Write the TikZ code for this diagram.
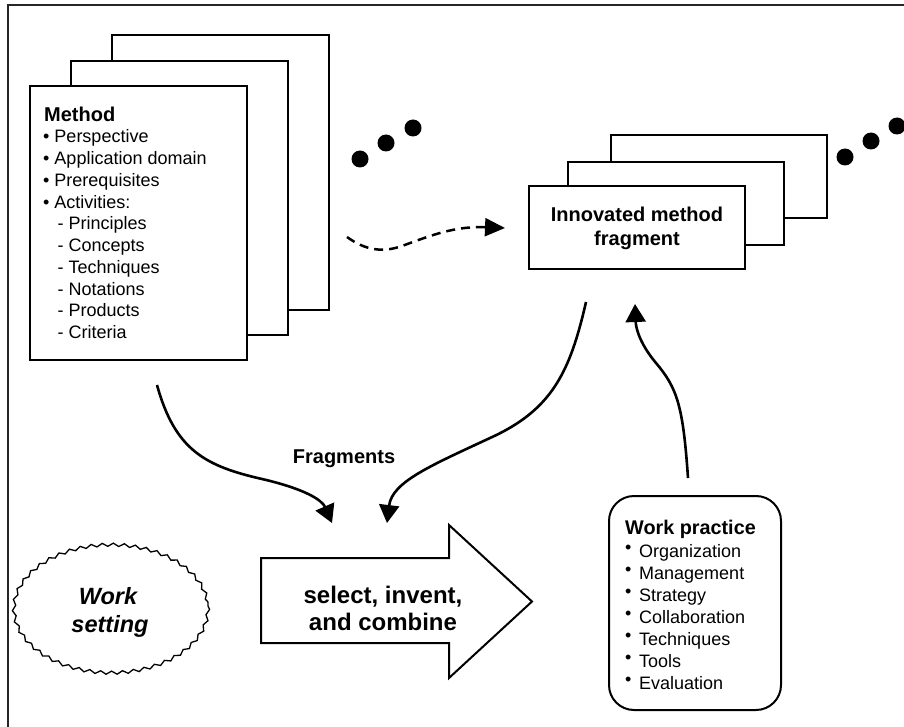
\documentclass[tikz,border=0pt]{standalone}
\usepackage{fontspec}
\setmainfont{Liberation Sans}
\usetikzlibrary{arrows.meta,decorations.pathmorphing}
\begin{document}
\begin{tikzpicture}[x=1pt,y=-1pt,
  sheet/.style={draw, fill=white, line width=2pt, rectangle, inner sep=0pt, outer sep=0pt},
  msheet/.style={sheet, minimum width=217pt, minimum height=274pt},
  fsheet/.style={sheet, minimum width=216pt, minimum height=83pt},
  txt/.style={anchor=base west, inner sep=0pt, font=\fontsize{18}{21.7}\selectfont},
  ctxt/.style={anchor=base, inner sep=0pt},
  flow/.style={line width=2.6pt, -{Triangle[length=18pt,width=20pt]}},
  dflow/.style={line width=2.5pt, dash pattern=on 9pt off 6pt, -{Triangle[length=20pt,width=18pt]}},
  blob/.style={fill=black}]
\useasboundingbox (0,0) rectangle (904,727);
% frame
\draw[line width=1.5pt, black!85] (8,727) -- (8,5) -- (904,5);

% method stack
\node[msheet] (m3) at (220,172.5) {};
\node[msheet] (m2) at (179,198) {};
\node[msheet] (m1) at (138.5,223) {};
\node[txt, font=\bfseries\fontsize{20}{22}\selectfont] (mt) at (44,122) {Method};
\foreach \lbl [count=\i] in {Perspective, Application domain, Prerequisites, Activities:}
  \node[txt] (mb\i) at (43,143+21.7*\i-21.7) {\textbullet\ \lbl};
\foreach \lbl [count=\i] in {Principles, Concepts, Techniques, Notations, Products, Criteria}
  \node[txt] (ms\i) at (57.5,230+21.7*\i-21.7) {- \lbl};

% dots
\fill[blob] (360,159) circle (8.5pt);
\fill[blob] (386,143) circle (8.5pt);
\fill[blob] (413,128) circle (8.5pt);
\fill[blob] (845,157) circle (8.5pt);
\fill[blob] (871,141) circle (8.5pt);
\fill[blob] (897,126) circle (8.5pt);

% innovated fragment stack
\node[fsheet] (f3) at (719,177) {};
\node[fsheet] (f2) at (676,203.5) {};
\node[fsheet] (f1) at (637,227.5) {};
\node[ctxt, font=\bfseries\fontsize{20}{23}\selectfont] (ft1) at (637,222) {Innovated method};
\node[ctxt, font=\bfseries\fontsize{20}{23}\selectfont] (ft2) at (637,245) {fragment};

% work practice
\node[draw, line width=2pt, rounded corners=25pt, minimum width=172pt, minimum height=214pt, inner sep=0pt] (wp) at (695,603) {};
\node[txt, font=\bfseries\fontsize{19.8}{22}\selectfont] (wpt) at (625,534) {Work practice};
\foreach \lbl [count=\i] in {Organization, Management, Strategy, Collaboration, Techniques, Tools, Evaluation}
  \node[txt] (wpi\i) at (625,557+22*\i-22) {\makebox[14pt][l]{\raisebox{4pt}{\textbullet}}\lbl};

% work setting cloud
\draw[line width=1.3pt, decorate, decoration={snake, segment length=11pt, amplitude=1.6pt}]
  (111,606) ellipse [x radius=97, y radius=64];
\node[ctxt, font=\bfseries\itshape\fontsize{23.5}{28}\selectfont] (ws1) at (108,604) {Work};
\node[ctxt, font=\bfseries\itshape\fontsize{23.5}{28}\selectfont] (ws2) at (110,632) {setting};

% big arrow
\draw[line width=2pt, fill=white] (261,558) -- (449,558) -- (449,525) -- (532,601.5)
  -- (449,678) -- (449,643) -- (261,643) -- cycle;
\node[ctxt, font=\bfseries\fontsize{24}{27}\selectfont] (sa1) at (383,603) {select, invent,};
\node[ctxt, font=\bfseries\fontsize{24}{27}\selectfont] (sa2) at (383,630) {and combine};

% label
\node[ctxt, font=\bfseries\fontsize{20}{22}\selectfont] (frag) at (344,463) {Fragments};

% connectors
\coordinate (a1s) at (157,385);
\coordinate (a1e) at (332,523);
\coordinate (a2s) at (586,302);
\coordinate (a2e) at (387,523);
\coordinate (a3s) at (688,478);
\coordinate (a3e) at (635,304);
\coordinate (a4s) at (347,237);
\coordinate (a4e) at (505,228);
\draw[flow] (a1s) .. controls (175,450) and (205,466) .. (262,479)
  .. controls (305,489) and (322,500) .. (a1e);
\draw[flow] (a2s) .. controls (570,372) and (552,410) .. (490,438)
  .. controls (430,466) and (392,482) .. (a2e);
\draw[flow] (a3s) .. controls (683,405) and (677,388) .. (656,363)
  .. controls (641,345) and (636,330) .. (a3e);
\draw[dflow] (a4s) .. controls (365,250) and (382,253) .. (402,246)
  .. controls (432,235) and (455,226) .. (a4e);
\end{tikzpicture}
\end{document}
